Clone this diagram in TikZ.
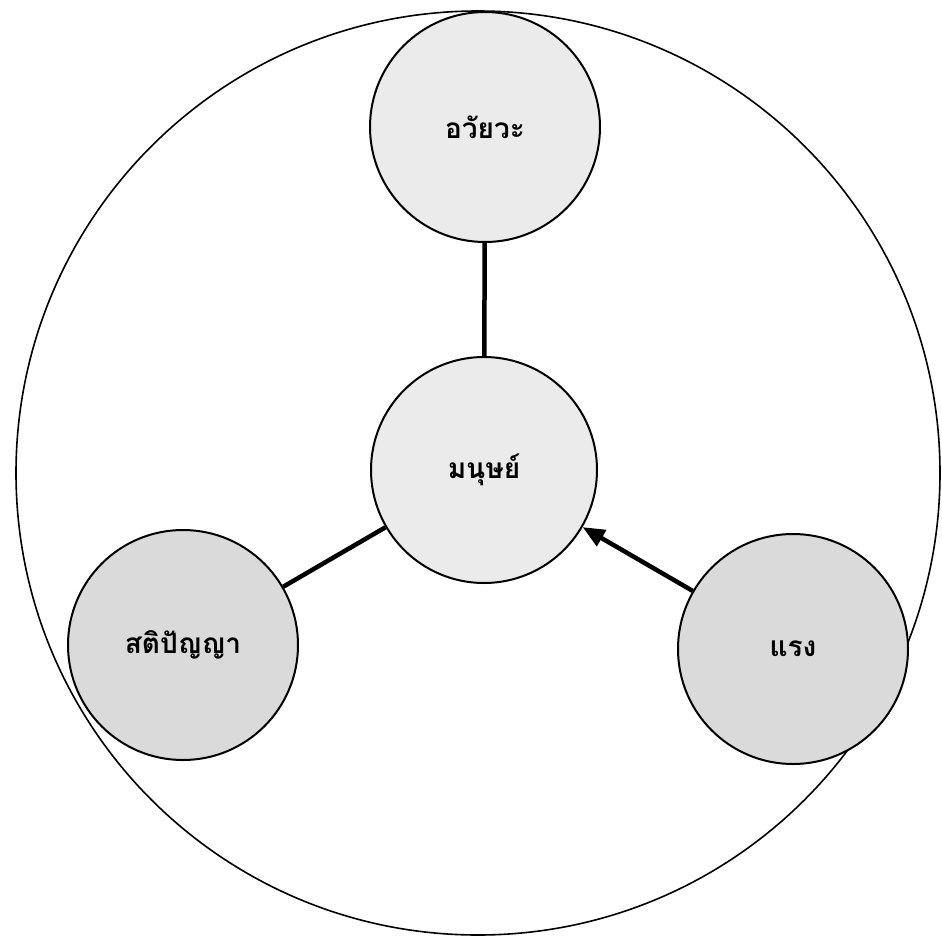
\documentclass[tikz,border=0pt]{standalone}
\usepackage{fontspec}
\usepackage{tikz}
\usetikzlibrary{positioning,arrows.meta}
\newfontfamily\thaifont[Script=Thai]{Loma}
\definecolor{PaleGray}{HTML}{EBEBEB}
\definecolor{ShadeGray}{HTML}{DADADA}

\begin{document}
\begin{tikzpicture}[
  x=1pt, y=-1pt,
  font=\thaifont\bfseries\fontsize{28}{32}\selectfont,
  % --- circle styles ---
  ring/.style={draw=black, line width=1.6pt, circle, minimum size=924pt, inner sep=0pt},
  bubble/.style={draw=black, line width=2pt, circle, minimum size=230pt, inner sep=0pt, fill=PaleGray},
  shadebubble/.style={bubble, fill=ShadeGray},
  % --- connectors ---
  link/.style={line width=4.5pt},
  push/.style={link, -{Triangle[length=22pt,width=18pt]}},
]
\useasboundingbox (0,0) rectangle (942,935);

% =================== OUTER RING ===================
\node[ring] (world) at (478,473) {};

% =================== BUBBLES ===================
\node[bubble] (organ) at (485,127) {อวัยวะ};
\node[bubble, minimum size=226pt] (human) at (484,470) {มนุษย์};
\node[shadebubble] (wisdom) at (183,645) {สติปัญญา};
\node[shadebubble] (force) at (793,649) {แรง};

% =================== RELATIONS ===================
\draw[link] (organ) -- (human);
\draw[link] (wisdom) -- (human);
\draw[push] (force) -- (human);

\end{tikzpicture}
\end{document}
